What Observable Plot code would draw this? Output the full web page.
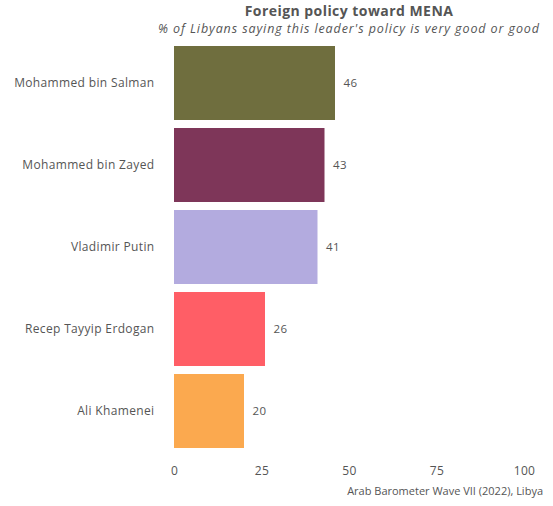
<!DOCTYPE html>
<html><head><meta charset="utf-8">
<script src="https://cdn.jsdelivr.net/npm/d3@7"></script>
<script src="https://cdn.jsdelivr.net/npm/@observablehq/plot@0.6"></script>
<style>
body{margin:0;background:#fff;font-family:"Open Sans",sans-serif;color:#555;}
#wrap{width:553px;height:506px;position:relative;overflow:hidden;}
.title{position:absolute;left:-1px;width:700px;top:1px;line-height:19px;height:19px;text-align:center;font-weight:700;font-size:14px;letter-spacing:0.45px;color:#555;}
.sub{position:absolute;left:-1px;width:700px;top:20px;line-height:17px;text-align:center;font-style:italic;font-size:12.5px;letter-spacing:0.9px;color:#555;}
#chart{position:absolute;top:36px;left:0;}
.cap{position:absolute;right:10px;top:483px;font-size:11px;color:#555;}
</style></head><body>
<div id="wrap">
<div class="title">Foreign policy toward MENA</div>
<div class="sub">% of Libyans saying this leader's policy is very good or good</div>
<div id="chart"></div>
<div class="cap">Arab Barometer Wave VII (2022), Libya</div>
</div>
<script>
const leaders = ["Mohammed bin Salman","Mohammed bin Zayed","Vladimir Putin","Recep Tayyip Erdogan","Ali Khamenei"];
const values = [46,43,41,26,20];
const colors = ["#6f6e3e","#7e3659","#b3abdf","#ff5e66","#fba94f"];
const xTicks = [0,25,50,75,100];
const data = leaders.map((l,i)=>({leader:l,value:values[i],color:colors[i]}));
const chart = Plot.plot({
  width:553, height:450,
  marginLeft:174, marginRight:29, marginTop:0, marginBottom:28,
  style:{fontFamily:"'Open Sans',sans-serif", fontSize:"12px", color:"#555", letterSpacing:"0.35px"},
  x:{domain:[0,100], ticks:xTicks, label:null, tickSize:0, tickPadding:8},
  y:{domain:leaders, label:null, tickSize:0, tickPadding:20, padding:0.1},
  marks:[
    Plot.barX(data,{y:"leader",x:"value",fill:"color"}),
    Plot.text(data,{y:"leader",x:"value",text:d=>String(d.value),textAnchor:"start",dx:8,fill:"#555",fontSize:11.5})
  ]
});
document.getElementById("chart").appendChild(chart);
</script>
</body></html>
